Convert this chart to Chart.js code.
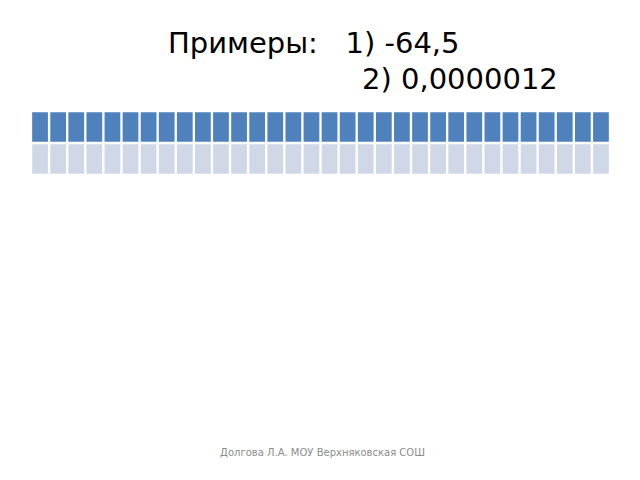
<!DOCTYPE html>
<html><head><meta charset="utf-8">
<script src="https://cdn.jsdelivr.net/npm/chart.js@4"></script>
<style>
body{margin:0;width:640px;height:480px;background:#fff;position:relative;overflow:hidden;font-family:"DejaVu Sans",sans-serif}
.t{position:absolute;font-size:29px;color:#000;white-space:pre}
#wrap{position:absolute;left:31px;top:111px;width:579px;height:64px}
.f{position:absolute;left:215px;width:215px;top:447px;font-size:10px;color:#8c8c8c;text-align:center;line-height:12px}
</style></head><body>
<div class="t" style="left:168px;top:26px">Примеры:   1) -64,5</div>
<div class="t" style="left:362px;top:62px">2) 0,0000012</div>
<div id="wrap"><canvas id="c"></canvas></div>
<div class="f">Долгова  Л.А. МОУ Верхняковская СОШ</div>
<script>
const columns = Array.from({length:32},(_,i)=>String(i+1));
const headerRow = [1,1,1,1,1,1,1,1,1,1,1,1,1,1,1,1,1,1,1,1,1,1,1,1,1,1,1,1,1,1,1,1];
const bodyRow   = [1,1,1,1,1,1,1,1,1,1,1,1,1,1,1,1,1,1,1,1,1,1,1,1,1,1,1,1,1,1,1,1];
new Chart(document.getElementById('c'),{
  type:'bar',
  data:{labels:columns,datasets:[
    {data:bodyRow,backgroundColor:'#d0d8e8',borderColor:'rgba(255,255,255,0.7)',borderWidth:1.5,borderSkipped:false},
    {data:headerRow,backgroundColor:'#4f81bd',borderColor:'rgba(255,255,255,0.5)',borderWidth:1.5,borderSkipped:false}
  ]},
  options:{responsive:true,maintainAspectRatio:false,animation:false,
    layout:{padding:0},
    categoryPercentage:1,barPercentage:1,
    plugins:{legend:{display:false},tooltip:{enabled:false}},
    scales:{x:{stacked:true,display:false},y:{stacked:true,display:false,min:0,max:2}}}
});
</script>
</body></html>
